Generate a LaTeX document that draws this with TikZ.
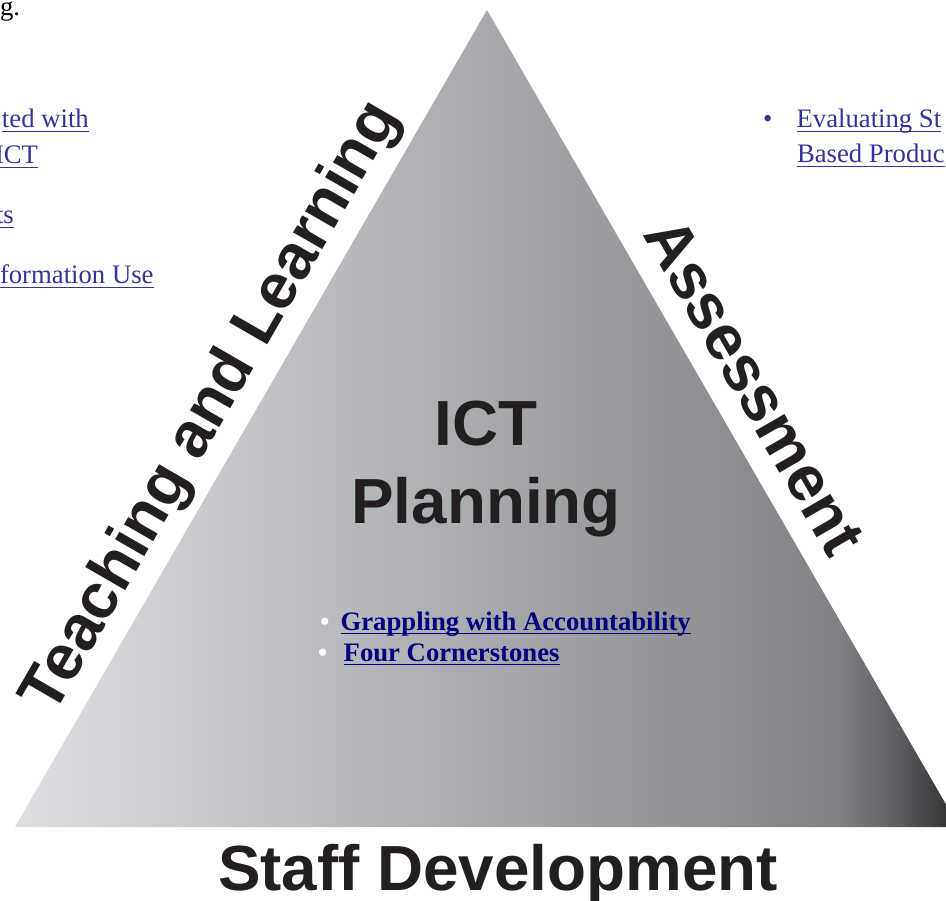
\documentclass[tikz,border=0pt]{standalone}
\usepackage{fontspec}
\setmainfont{Liberation Serif}
\newfontfamily\labelfont{Liberation Sans}

\newlength\lnkwd
\newcommand\lnkline[1]{\settowidth{\lnkwd}{#1}\rlap{\rule[-2.4pt]{\lnkwd}{0.8pt}}#1}

\definecolor{linkblue}{HTML}{333399}
\definecolor{linknavy}{HTML}{000080}
\definecolor{labelblack}{HTML}{231F20}
\definecolor{shadeA}{HTML}{DEDFE2}
\definecolor{shadeB}{HTML}{808185}
\definecolor{shadeC}{HTML}{5A5B5E}
\definecolor{shadeD}{HTML}{2C2C2E}
\pgfdeclarehorizontalshading{planshade}{100bp}{color(0bp)=(shadeA); color(25bp)=(shadeA); color(68.7bp)=(shadeB); color(71.9bp)=(shadeC); color(75bp)=(shadeD); color(100bp)=(shadeD)}

\begin{document}
\begin{tikzpicture}
	[x=0.02cm,y=-0.02cm,
	every node/.style={inner sep=0pt,outer sep=0pt},
	edgelabel/.style={anchor=base,text=labelblack,font=\labelfont\bfseries\fontsize{36.3}{43}\selectfont},
	sidelink/.style={anchor=base west,text=linkblue,font=\fontsize{15.2}{18}\selectfont},
	centerlink/.style={anchor=base west,text=linknavy,font=\bfseries\fontsize{15.2}{18}\selectfont}]
	\useasboundingbox (0,0) rectangle (946,901);

	% the triangle
	\coordinate (top) at (487,10);
	\coordinate (left) at (15,827);
	\coordinate (right) at (959,827);
	\path[shading=planshade] (top) -- (left) -- (right) -- cycle;

	% labels along the sides
	\node[edgelabel,rotate=60] (teach) at (226.5,416) {Teaching and Learning};
	\node[edgelabel,rotate=-60] (assess) at (736,397) {Assessment};
	\node[edgelabel] (staff) at (498,890) {Staff Development};
	\node[edgelabel] (ict) at (486,446) {ICT};
	\node[edgelabel] (plan) at (486,524) {Planning};

	% links
	\node[sidelink,text=black] (dot) at (0,16) {g.};
	\node[sidelink] (lnkA) at (2,128) {\lnkline{ted with}};
	\node[sidelink] (lnkB) at (-5,164) {\lnkline{ICT}};
	\node[sidelink] (lnkC) at (-4,224) {\lnkline{ts}};
	\node[sidelink] (lnkD) at (0,284) {\lnkline{formation Use}};
	\node[sidelink] (lnkE) at (763,128) {\textbullet\hspace{13.8pt}\lnkline{Evaluating St}};
	\node[sidelink] (lnkF) at (797,163) {\lnkline{Based Produc}};
	\node[centerlink] (grapple) at (320,630) {\textcolor{white}{\textbullet}\hspace{6.4pt}\lnkline{Grappling with Accountability}};
	\node[centerlink] (corner) at (318,661) {\textcolor{white}{\textbullet}\hspace{9.3pt}\lnkline{Four Cornerstones}};

\end{tikzpicture}
\end{document}
